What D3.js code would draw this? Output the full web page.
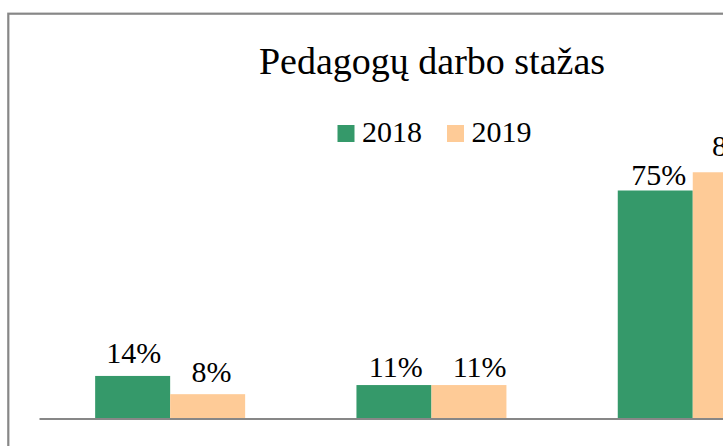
<!DOCTYPE html>
<html>
<head>
<meta charset="utf-8">
<script src="https://cdn.jsdelivr.net/npm/d3@7/dist/d3.min.js"></script>
<style>
  html, body { margin: 0; padding: 0; background: #fff; overflow: hidden; width: 723px; height: 446px; }
  svg { display: block; }
  text { font-family: "Liberation Serif", "Times New Roman", serif; fill: #000; }
</style>
</head>
<body>
<script>
const title = "Pedagogų darbo stažas";
const categories = ["iki 5 metų", "5–10 metų", "daugiau nei 10 metų"];
const seriesNames = ["2018", "2019"];
const values2018 = [14, 11, 75];
const values2019 = [8, 11, 81];
const colors = ["#35996a", "#fecb97"];

// manual data-label nudges (style), per series then category: [dx, dy]
const labelNudge = [
  [[1, -13.3], [1.8, -7.7], [3.5, -6]],
  [[3.8, -12.3], [10.7, -7.7], [9.3, -16]]
];

const W = 880, H = 560;
const svg = d3.select("body").append("svg").attr("width", W).attr("height", H);

// chart area border
svg.append("rect")
  .attr("x", 8.3).attr("y", 13.7)
  .attr("width", W - 10).attr("height", H - 20)
  .attr("fill", "#fff").attr("stroke", "#878787").attr("stroke-width", 2.2);

const plotLeft = 39.5, step = 261.3, baseY = 418.5, pxPerPct = 3.04;
const x = d3.scaleBand().domain(categories)
  .range([plotLeft, plotLeft + step * categories.length])
  .paddingInner(0.426).paddingOuter(0.213);
const xs = d3.scaleBand().domain(seriesNames).range([0, x.bandwidth()]).padding(0);
const y = d3.scaleLinear().domain([0, 90]).range([baseY, baseY - 90 * pxPerPct]);

const data = categories.map((c, i) => ({ cat: c, i, vals: [values2018[i], values2019[i]] }));

const groups = svg.selectAll("g.grp").data(data).join("g")
  .attr("class", "grp")
  .attr("transform", d => `translate(${x(d.cat)},0)`);

const items = d => d.vals.map((v, j) => ({ v, s: seriesNames[j], j, i: d.i }));

groups.selectAll("rect").data(items)
  .join("rect")
  .attr("x", d => xs(d.s))
  .attr("y", d => y(d.v))
  .attr("width", xs.bandwidth())
  .attr("height", d => y(0) - y(d.v))
  .attr("fill", d => colors[d.j]);

groups.selectAll("text").data(items)
  .join("text")
  .attr("x", d => xs(d.s) + xs.bandwidth() / 2 + labelNudge[d.j][d.i][0])
  .attr("y", d => y(d.v) + labelNudge[d.j][d.i][1])
  .attr("text-anchor", "middle")
  .attr("font-size", 30)
  .text(d => d.v + "%");

// axis line
svg.append("line")
  .attr("x1", x.range()[0]).attr("x2", x.range()[1])
  .attr("y1", y(0) + 0.5).attr("y2", y(0) + 0.5)
  .attr("stroke", "#878787").attr("stroke-width", 2.2);

// title
svg.append("text")
  .attr("x", 432).attr("y", 74.3)
  .attr("text-anchor", "middle")
  .attr("font-size", 38)
  .text(title);

// legend
const legendX = [337.5, 447];
const lg = svg.selectAll("g.leg").data(seriesNames).join("g")
  .attr("class", "leg")
  .attr("transform", (d, i) => `translate(${legendX[i]},0)`);
lg.append("rect").attr("x", 0).attr("y", 125).attr("width", 17).attr("height", 17)
  .attr("fill", (d, i) => colors[i]);
lg.append("text").attr("x", 24.5).attr("y", 141.7).attr("font-size", 30).text(d => d);
</script>
</body>
</html>
